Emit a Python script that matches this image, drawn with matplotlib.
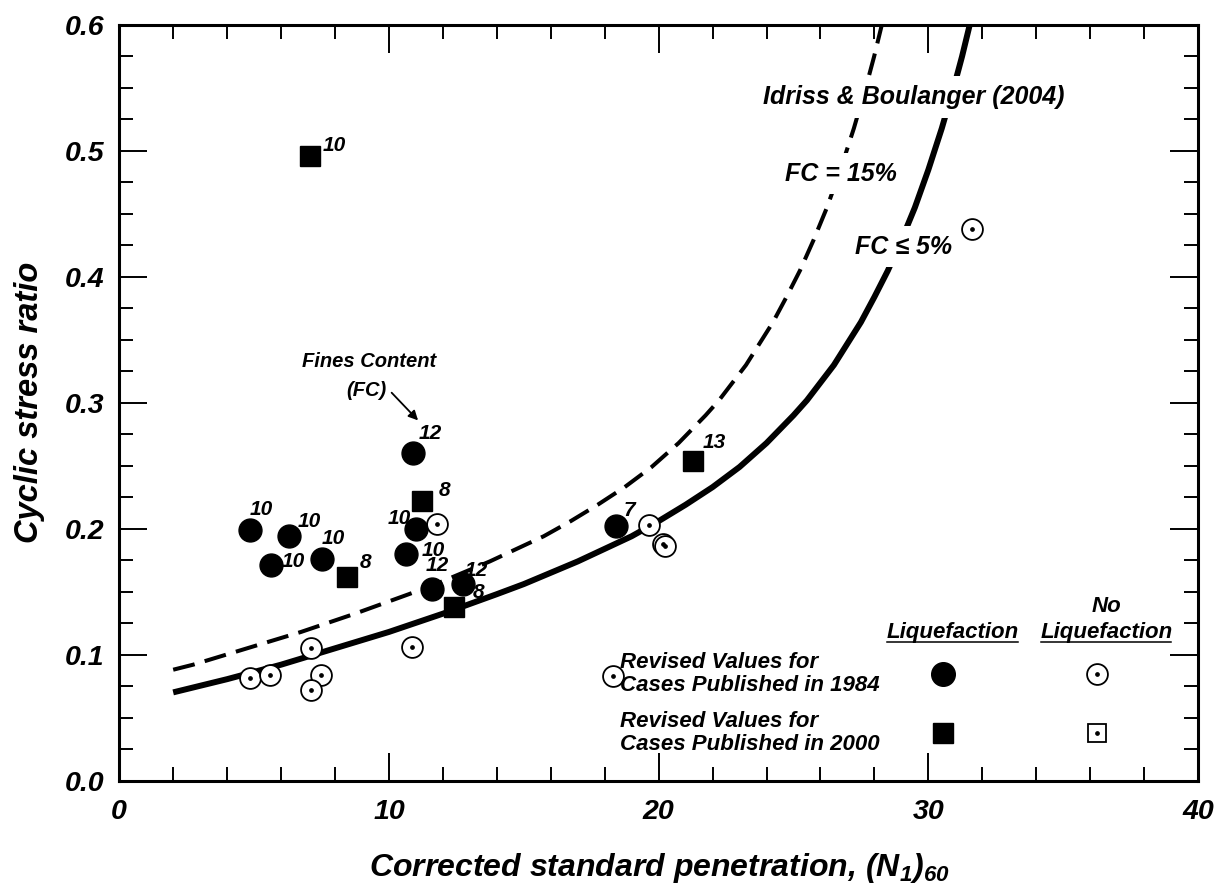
import matplotlib
matplotlib.use('Agg')
import matplotlib.pyplot as plt
from matplotlib.lines import Line2D
from matplotlib.ticker import MultipleLocator, FormatStrFormatter
from matplotlib.transforms import IdentityTransform

plt.rcParams['font.family'] = ['Liberation Sans', 'DejaVu Sans']
plt.rcParams['font.weight'] = 'bold'
plt.rcParams['font.style'] = 'italic'
plt.rcParams['mathtext.fontset'] = 'custom'
plt.rcParams['mathtext.rm'] = 'Liberation Sans:bold:italic'
plt.rcParams['mathtext.it'] = 'Liberation Sans:bold:italic'
plt.rcParams['mathtext.bf'] = 'Liberation Sans:bold:italic'

# Idriss & Boulanger (2004) triggering curves, clean sand and FC = 15%
n_clean = [2, 4, 6, 8, 10, 12, 14, 15, 16, 17, 18, 19, 20, 21, 22, 23, 24, 25, 25.5, 26,
           26.5, 27, 27.5, 28, 28.5, 29, 29.5, 30, 30.5, 31, 31.25, 31.5, 31.6]
crr_clean = [0.070, 0.0805, 0.092, 0.105, 0.118, 0.1325, 0.148, 0.156, 0.165, 0.174, 0.184,
             0.194, 0.206, 0.219, 0.233, 0.249, 0.268, 0.290, 0.302, 0.316, 0.330, 0.347,
             0.364, 0.384, 0.405, 0.429, 0.455, 0.485, 0.518, 0.555, 0.575, 0.597, 0.606]
n_fc15 = [2, 2.74, 4.74, 6.74, 8.74, 10.74, 11.74, 12.74, 13.74, 14.74, 15.74, 16.74, 17.74,
          18.74, 19.74, 20.74, 21.74, 22.24, 22.74, 23.24, 23.74, 24.24, 24.74, 25.24, 25.74,
          26.24, 26.74, 27.24, 27.74, 27.99, 28.24, 28.34]
crr_fc15 = [0.088, 0.092, 0.105, 0.118, 0.1325, 0.148, 0.156, 0.165, 0.174, 0.184, 0.194,
            0.206, 0.219, 0.233, 0.249, 0.268, 0.290, 0.302, 0.316, 0.330, 0.347, 0.364,
            0.384, 0.405, 0.429, 0.455, 0.485, 0.518, 0.555, 0.575, 0.597, 0.606]

# case histories: liquefaction, 1984 cases
liq84_n = [4.84, 5.61, 6.29, 7.52, 10.9, 10.99, 10.62, 11.6, 12.75, 18.42]
liq84_csr = [0.199, 0.171, 0.194, 0.176, 0.260, 0.200, 0.180, 0.152, 0.156, 0.202]
liq84_fc = ['10', '10', '10', '10', '12', '10', '10', '12', '12', '7']

# liquefaction, 2000 cases
liq00_n = [7.09, 8.43, 11.24, 12.43, 21.27]
liq00_csr = [0.496, 0.162, 0.222, 0.138, 0.254]
liq00_fc = ['10', '8', '8', '8', '13']

# no liquefaction, 1984 cases
noliq84_n = [4.83, 5.59, 7.12, 7.49, 7.12, 10.85, 11.78, 18.3, 19.65, 20.15, 20.25, 31.63]
noliq84_csr = [0.0815, 0.084, 0.105, 0.084, 0.072, 0.106, 0.204, 0.083, 0.203, 0.188, 0.186, 0.438]

# label offsets in pixels (dx, dy, ha)
liq84_off = [(0, 20, 'left'), (11, 4, 'left'), (9, 15, 'left'), (0, 20, 'left'), (5, 20, 'left'),
             (-5, 10, 'right'), (16, 3, 'left'), (-6, 24, 'left'), (2, 14, 'left'), (8, 16, 'left')]
liq00_off = [(12, 10, 'left'), (13, 14, 'left'), (16, 10, 'left'), (18, 14, 'left'), (10, 18, 'left')]

fig = plt.figure(figsize=(12.18, 8.9), dpi=100)
ax = fig.add_axes([0.0979, 0.1230, 0.8857, 0.8489])

ax.plot(n_clean, crr_clean, color='black', lw=4.3, solid_capstyle='butt',
        solid_joinstyle='round', zorder=2)
ax.plot(n_fc15, crr_fc15, color='black', lw=2.9, dashes=(5.5, 2.6), dash_capstyle='butt', zorder=2)

ax.plot(liq84_n, liq84_csr, 'o', ms=16.5, color='black', zorder=3)
ax.plot(liq00_n, liq00_csr, 's', ms=14.5, color='black', zorder=3)
ax.plot(noliq84_n, noliq84_csr, 'o', ms=15, mfc='white', mec='black', mew=1.3, zorder=4)
ax.plot(noliq84_n, noliq84_csr, 'o', ms=2.4, color='black', zorder=5)

px = 0.72  # points per pixel at 100 dpi
for n, c, fc, (dx, dy, ha) in zip(liq84_n, liq84_csr, liq84_fc, liq84_off):
    ax.annotate(fc, (n, c), xytext=(dx * px, dy * px), textcoords='offset points',
                ha=ha, va='center', fontsize=15, zorder=6)
for n, c, fc, (dx, dy, ha) in zip(liq00_n, liq00_csr, liq00_fc, liq00_off):
    ax.annotate(fc, (n, c), xytext=(dx * px, dy * px), textcoords='offset points',
                ha=ha, va='center', fontsize=15, zorder=6)

# curve labels, white boxes break the lines behind them
box = dict(boxstyle='square,pad=0.35', fc='white', ec='none')
ax.text(29.45, 0.543, 'Idriss & Boulanger (2004)', ha='center', va='center', fontsize=18, bbox=box, zorder=5)
ax.text(26.75, 0.482, 'FC = 15%', ha='center', va='center', fontsize=18, bbox=box, zorder=5)
ax.text(29.1, 0.424, 'FC \u2264 5%', ha='center', va='center', fontsize=18, bbox=box, zorder=5)

ax.text(9.25, 0.333, 'Fines Content', ha='center', va='center', fontsize=14.5)
ax.text(9.15, 0.310, '(FC)', ha='center', va='center', fontsize=14.5)
ax.annotate('', xy=(11.08, 0.286), xytext=(10.1, 0.308),
            arrowprops=dict(arrowstyle='-|>', color='black', lw=1.3, mutation_scale=14,
                            shrinkA=0, shrinkB=0))

# legend block
leg_size = 16
ax.text(18.55, 0.0843, 'Revised Values for\nCases Published in 1984', ha='left', va='center',
        fontsize=leg_size, linespacing=1.12, zorder=6)
ax.text(18.55, 0.0374, 'Revised Values for\nCases Published in 2000', ha='left', va='center',
        fontsize=leg_size, linespacing=1.12, zorder=6)
h1 = ax.text(30.9, 0.1173, 'Liquefaction', ha='center', va='center', fontsize=leg_size)
ax.text(36.6, 0.138, 'No', ha='center', va='center', fontsize=leg_size)
h2 = ax.text(36.6, 0.1173, 'Liquefaction', ha='center', va='center', fontsize=leg_size)

ax.plot([30.55], [0.0847], 'o', ms=17, color='black')
ax.plot([30.55], [0.0378], 's', ms=15, color='black')
ax.plot([36.25], [0.0847], 'o', ms=15, mfc='white', mec='black', mew=1.3)
ax.plot([36.25], [0.0847], 'o', ms=2.4, color='black')
ax.plot([36.25], [0.0378], 's', ms=12.5, mfc='white', mec='black', mew=1.3)
ax.plot([36.25], [0.0378], 'o', ms=2.4, color='black')

ax.set_xlim(0, 40)
ax.set_ylim(0, 0.6)
ax.xaxis.set_major_locator(MultipleLocator(10))
ax.xaxis.set_minor_locator(MultipleLocator(2))
ax.yaxis.set_major_locator(MultipleLocator(0.1))
ax.yaxis.set_minor_locator(MultipleLocator(0.025))
ax.yaxis.set_major_formatter(FormatStrFormatter('%.1f'))

for s in ax.spines.values():
    s.set_linewidth(2.2)
ax.tick_params(which='both', direction='in', top=True, right=True, width=1.4, labelsize=20.5)
ax.tick_params(which='major', length=20)
ax.tick_params(which='minor', length=10)
ax.tick_params(axis='y', pad=11)
ax.tick_params(axis='x', pad=13)

ax.set_xlabel('Corrected standard penetration, (N$_{1}$)$_{60}$', fontsize=23,
              fontweight='bold', va='center')
ax.set_ylabel('Cyclic stress ratio', fontsize=23.5, fontweight='bold', va='center')
ax.xaxis.set_label_coords(0.501, -0.116)
ax.yaxis.set_label_coords(-0.083, 0.5)

# underline the legend column headers
fig.canvas.draw()
for h in (h1, h2):
    bb = h.get_window_extent()
    fig.add_artist(Line2D([bb.x0 + 1, bb.x1 - 1], [bb.y0 + 1, bb.y0 + 1], color='black', lw=1.1,
                          transform=IdentityTransform()))

fig.savefig('out.png', dpi=100)
